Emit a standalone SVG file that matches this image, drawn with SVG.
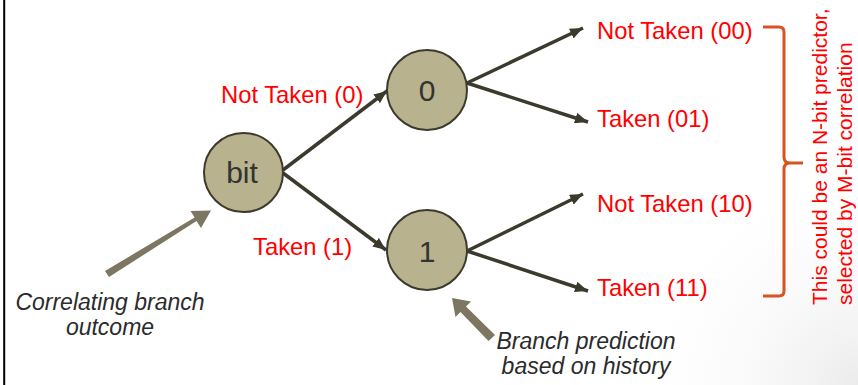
<svg xmlns="http://www.w3.org/2000/svg" width="858" height="385" viewBox="0 0 858 385">
  <defs>
    <radialGradient id="cornerShade" cx="858" cy="385" r="230" gradientUnits="userSpaceOnUse">
      <stop offset="0" stop-color="#ebebeb"/>
      <stop offset="1" stop-color="#ffffff" stop-opacity="0"/>
    </radialGradient>
    <marker id="head" viewBox="0 0 12 10" refX="12" refY="5" markerWidth="13" markerHeight="11" markerUnits="userSpaceOnUse" orient="auto">
      <path d="M0,0 L12,5 L0,10 z" fill="#3c3a2d"/>
    </marker>
    <style>
      .node circle { fill: #b9b28f; stroke: #3c3a2d; stroke-width: 2; }
      .node text { font-family: "Liberation Sans", Arial, sans-serif; font-size: 30px; fill: #333330; text-anchor: middle; }
      .edge { stroke: #3c3a2d; stroke-width: 3.5; fill: none; marker-end: url(#head); }
      .lbl { font-family: "Liberation Sans", Arial, sans-serif; font-size: 23.8px; fill: #ff0000; }
      .note { font-family: "Liberation Sans", Arial, sans-serif; font-size: 23px; font-style: italic; fill: #2b2b2b; text-anchor: middle; }
      .pointer { fill: #7d7661; }
      .side { font-family: "Liberation Sans", Arial, sans-serif; font-size: 21px; fill: #ff0000; }
    </style>
  </defs>

  <!-- page background -->
  <rect x="0" y="0" width="858" height="385" fill="#ffffff"/>
  <rect x="0" y="0" width="858" height="385" fill="url(#cornerShade)"/>
  <line x1="4.2" y1="0" x2="4.2" y2="385" stroke="#000000" stroke-width="2"/>

  <!-- connectors -->
  <g id="connectors">
    <line class="edge" x1="283" y1="170" x2="387" y2="91"/>
    <line class="edge" x1="283" y1="173" x2="386" y2="250"/>
    <line class="edge" x1="467" y1="83" x2="583" y2="28"/>
    <line class="edge" x1="467" y1="83" x2="588" y2="122"/>
    <line class="edge" x1="467" y1="251" x2="583" y2="194"/>
    <line class="edge" x1="467" y1="251" x2="588" y2="291"/>
  </g>

  <!-- nodes -->
  <g id="node-bit" class="node">
    <circle cx="243.5" cy="172.5" r="39.5"/>
    <text x="242" y="183">bit</text>
  </g>
  <g id="node-0" class="node">
    <circle cx="427" cy="90" r="40"/>
    <text x="427" y="101">0</text>
  </g>
  <g id="node-1" class="node">
    <circle cx="427" cy="250" r="40"/>
    <text x="427" y="262">1</text>
  </g>

  <!-- edge labels -->
  <g id="labels">
    <text class="lbl" x="221" y="103">Not Taken (0)</text>
    <text class="lbl" x="253" y="255">Taken (1)</text>
    <text class="lbl" x="597" y="39">Not Taken (00)</text>
    <text class="lbl" x="597" y="127">Taken (01)</text>
    <text class="lbl" x="597" y="212">Not Taken (10)</text>
    <text class="lbl" x="597" y="296">Taken (11)</text>
  </g>

  <!-- annotation pointers -->
  <g id="pointer-correlating">
    <polygon class="pointer" points="105,271 109,277 196.5,221 201,228 211,210.5 190.5,211 194.6,217.6"/>
    <text class="note" x="110" y="310">Correlating branch</text>
    <text class="note" x="110" y="335">outcome</text>
  </g>
  <g id="pointer-history">
    <polygon class="pointer" points="488.5,341 495,335 466,306.5 471,301.5 452,298 455.5,317 460.5,312"/>
    <text class="note" x="586" y="349">Branch prediction</text>
    <text class="note" x="586" y="374">based on history</text>
  </g>

  <!-- brace with side note -->
  <g id="brace-note">
    <path d="M763,27 H779 Q784,27 784,32 V157 Q784,163 790,163 H803 M790,163 Q784,163 784,169 V291 Q784,296 779,296 H763" fill="none" stroke="#d9531e" stroke-width="3"/>
    <text class="side" transform="translate(827,305) rotate(-90)">This could be an N-bit predictor,</text>
    <text class="side" transform="translate(852,305) rotate(-90)">selected by M-bit correlation</text>
  </g>
</svg>
